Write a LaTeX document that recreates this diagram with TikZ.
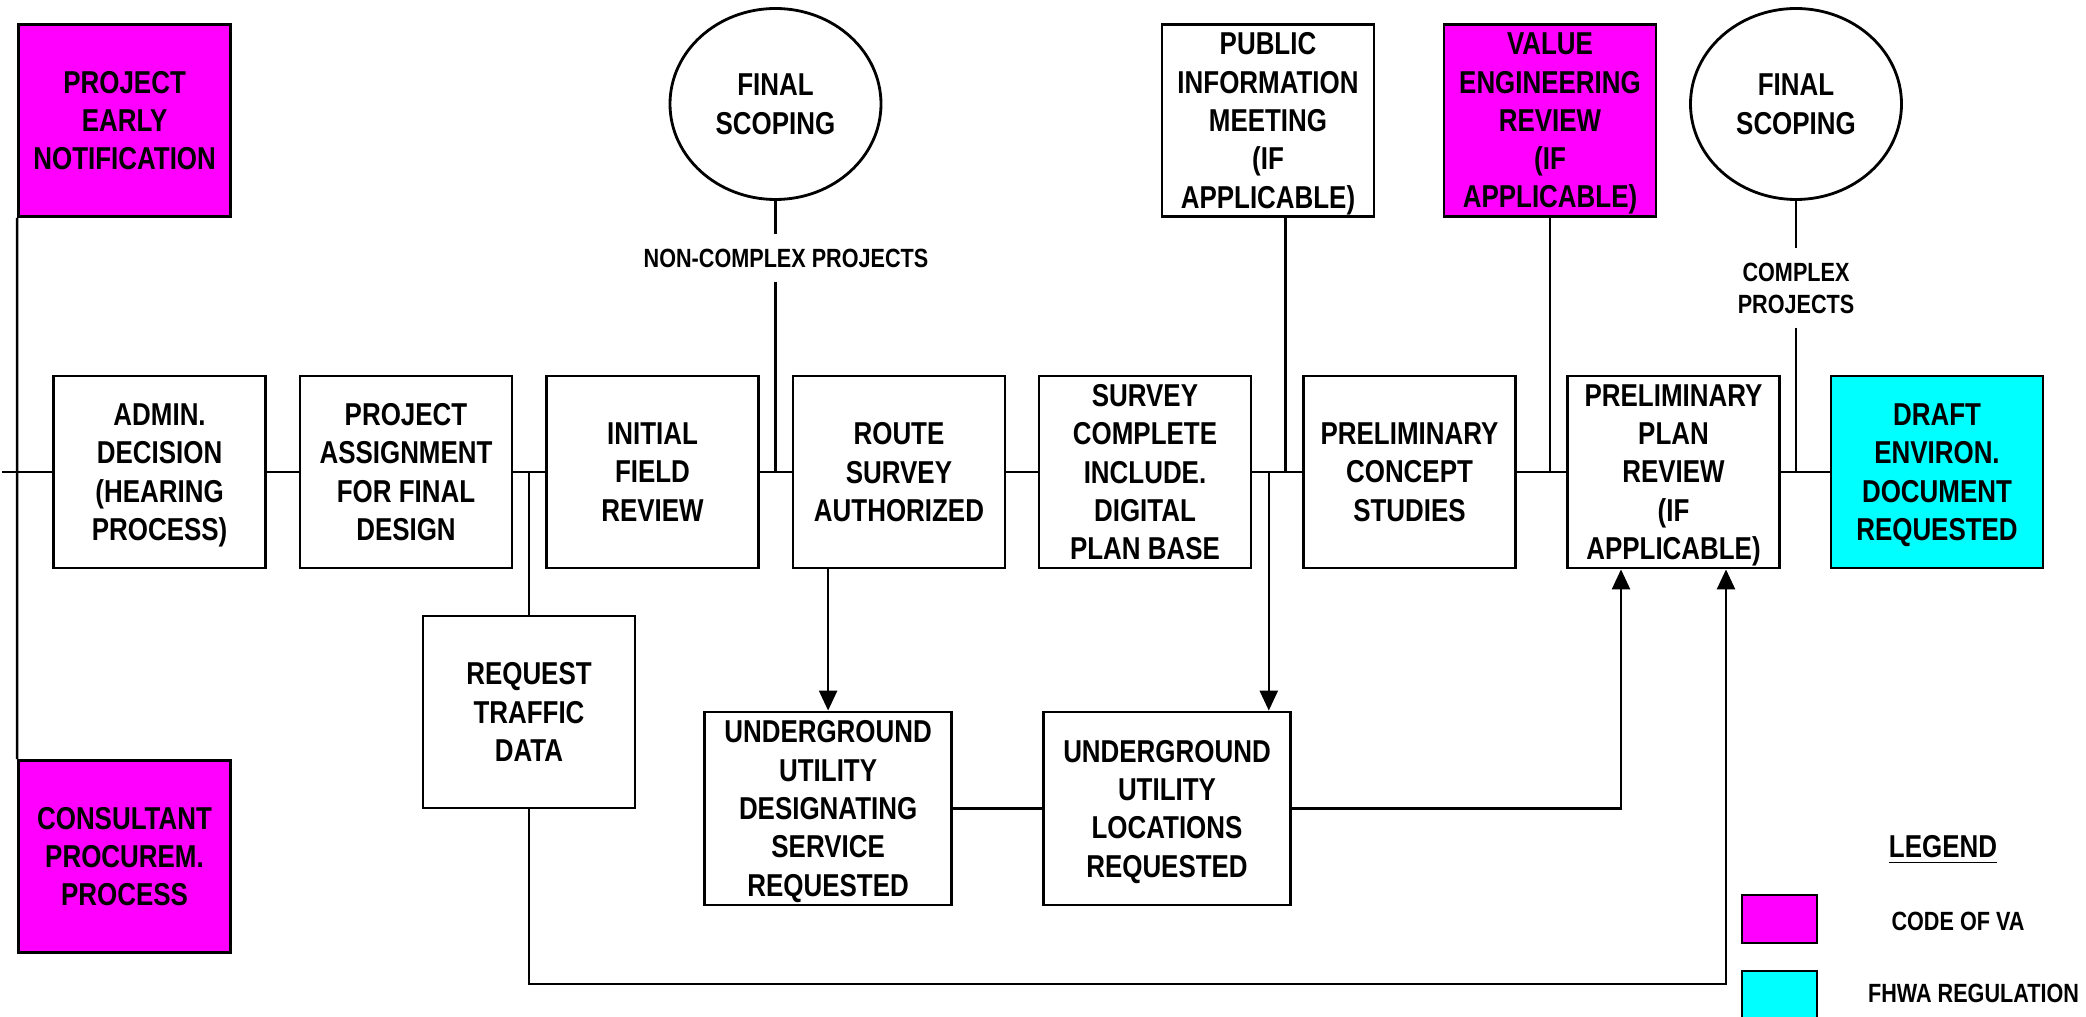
\documentclass[tikz,border=0pt]{standalone}
\usepackage{fontspec}
\setmainfont{Liberation Sans}[FakeStretch=0.82]
\usepackage{tikz}
\usetikzlibrary{arrows.meta,shapes.geometric}
\definecolor{vacode}{HTML}{FF00FF}
\definecolor{fhwa}{HTML}{00FFFF}
\tikzset{>={Triangle[length=2mm,width=1.8mm]}}
\tikzset{
  taskbox/.style={draw,line width=0.8pt,minimum width=2.12cm,minimum height=1.92cm,
    inner sep=0pt,align=center,text depth=0pt,font=\fontsize{9}{10.9}\selectfont\bfseries}}
\tikzset{
  widebox/.style={taskbox,minimum width=2.47cm,minimum height=1.93cm}}
\tikzset{
  scopering/.style={draw,ellipse,line width=0.8pt,minimum width=2.11cm,minimum height=1.91cm,
    inner sep=0pt,align=center,text depth=0pt,font=\fontsize{9}{10.9}\selectfont\bfseries}}
\tikzset{
  notelabel/.style={inner sep=1.3mm,align=center,font=\fontsize{7.5}{9.1}\selectfont\bfseries}}
\tikzset{
  keybox/.style={draw,line width=0.8pt,minimum width=0.75cm,minimum height=0.48cm,inner sep=0pt}}

\begin{document}
\begin{tikzpicture}[line width=0.7pt]
    \useasboundingbox (0,0) rectangle (20.86,-10.17);
    \node[taskbox](adm) at (1.596,-4.72) {ADMIN.\\DECISION\\(HEARING\\PROCESS)};
    \node[taskbox](asg) at (4.06,-4.72) {PROJECT\\ASSIGNMENT\\FOR FINAL\\DESIGN};
    \node[taskbox](ifr) at (6.525,-4.72) {INITIAL\\FIELD\\REVIEW};
    \node[taskbox](rsa) at (8.99,-4.72) {ROUTE\\SURVEY\\AUTHORIZED};
    \node[taskbox](scp) at (11.45,-4.72) {SURVEY\\COMPLETE\\INCLUDE.\\DIGITAL\\PLAN BASE};
    \node[taskbox](pcs) at (14.095,-4.72) {PRELIMINARY\\CONCEPT\\STUDIES};
    \node[taskbox](ppr) at (16.735,-4.72) {PRELIMINARY\\PLAN\\REVIEW\\(IF\\APPLICABLE)};
    \node[taskbox,fill=fhwa](der) at (19.37,-4.72) {DRAFT\\ENVIRON.\\DOCUMENT\\REQUESTED};
    \node[taskbox,fill=vacode](pen) at (1.246,-1.205) {PROJECT\\EARLY\\NOTIFICATION};
    \node[scopering](fsa) at (7.755,-1.04) {FINAL\\SCOPING};
    \node[taskbox](pim) at (12.68,-1.205) {PUBLIC\\INFORMATION\\MEETING\\(IF\\APPLICABLE)};
    \node[taskbox,fill=vacode](ver) at (15.5,-1.205) {VALUE\\ENGINEERING\\REVIEW\\(IF\\APPLICABLE)};
    \node[scopering](fsb) at (17.96,-1.04) {FINAL\\SCOPING};
    \node[taskbox](rtd) at (5.29,-7.12) {REQUEST\\TRAFFIC\\DATA};
    \node[taskbox,fill=vacode](con) at (1.245,-8.565) {CONSULTANT\\PROCUREM.\\PROCESS};
    \node[widebox](uds) at (8.281,-8.085) {UNDERGROUND\\UTILITY\\DESIGNATING\\SERVICE\\REQUESTED};
    \node[widebox](ulr) at (11.67,-8.085) {UNDERGROUND\\UTILITY\\LOCATIONS\\REQUESTED};
    \node[notelabel](ncp) at (7.86,-2.58) {NON-COMPLEX PROJECTS};
    \node[notelabel](cxp) at (17.96,-2.88) {COMPLEX\\PROJECTS};
    \coordinate (lend) at (0.02,-4.72);
    \coordinate (pimj) at (12.857,-4.72);
    \coordinate (ulj) at (12.688,-4.72);
    \coordinate (low) at (0,-9.84);
    \draw (lend) -- (adm) -- (asg) -- (ifr) -- (rsa) -- (scp) -- (pcs) -- (ppr) -- (der);
    \draw (pen.south west) -- (con.north west);
    \draw (fsa.south) -- (fsa.south |- ncp.north);
    \draw (fsa.south |- ncp.south) -- (fsa.south |- ifr.east);
    \draw (fsb.south) -- (fsb.south |- cxp.north);
    \draw (fsb.south |- cxp.south) -- (fsb.south |- ppr.east);
    \draw (pimj |- pim.south) -- (pimj);
    \draw (ver.south) -- (ver.south |- pcs.east);
    \draw (rtd.north |- asg.east) -- (rtd.north);
    \draw[->] (uds.north |- rsa.south) -- (uds.north);
    \draw[->] (ulj) -- (ulj |- ulr.north);
    \draw (uds.east) -- (ulr.west);
    \draw[->] (ulr.east) -| ([xshift=-5.25mm]ppr.south);
    \draw[->] (rtd.south) -- (rtd.south |- low) -| ([xshift=5.25mm]ppr.south);
    \node[font=\fontsize{9}{10.9}\selectfont\bfseries](leg) at (19.43,-8.50) {\underline{LEGEND}};
    \node[keybox,fill=vacode](kva) at (17.795,-9.19) {};
    \node[notelabel](tva) at (19.58,-9.217) {CODE OF VA};
    \node[keybox,fill=fhwa](kfh) at (17.795,-9.95) {};
    \node[notelabel](tfh) at (19.735,-9.93) {FHWA REGULATION};
\end{tikzpicture}
\end{document}
